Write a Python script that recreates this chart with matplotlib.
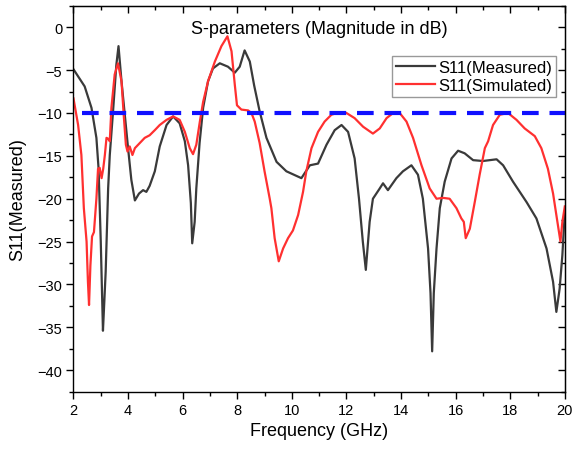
import numpy as np
import matplotlib
matplotlib.use("Agg")
import matplotlib.pyplot as plt
from matplotlib.ticker import MultipleLocator

plt.rcParams['font.family'] = ['Liberation Sans', 'DejaVu Sans']

# S11 measured (frequency in GHz, magnitude in dB)
f_meas = [2.0, 2.41, 2.66, 2.84, 2.92, 3.0, 3.08, 3.13, 3.18, 3.27, 3.33, 3.45, 3.57, 3.65,
          3.76, 3.88, 4.0, 4.12, 4.25, 4.4, 4.55, 4.67, 4.79, 4.98, 5.16, 5.41, 5.65, 5.89,
          6.08, 6.2, 6.3, 6.35, 6.44, 6.5, 6.62, 6.75, 6.93, 7.11, 7.36, 7.66, 7.91, 8.09,
          8.27, 8.46, 8.62, 8.82, 9.07, 9.44, 9.8, 10.35, 10.66, 10.96, 11.27, 11.57, 11.82,
          12.06, 12.3, 12.46, 12.6, 12.71, 12.85, 12.97, 13.22, 13.34, 13.52, 13.83, 14.07,
          14.38, 14.62, 14.8, 14.99, 15.08, 15.14, 15.2, 15.3, 15.42, 15.6, 15.85, 16.09,
          16.33, 16.64, 17.0, 17.5, 17.74, 18.1, 18.6, 18.96, 19.33, 19.57, 19.69, 19.81,
          19.91, 20.0]
s11_meas = [-4.9, -6.9, -9.4, -12.9, -16.5, -25.0, -35.4, -32.0, -28.5, -18.8, -14.9, -9.8,
            -4.4, -2.2, -6.3, -10.2, -14.1, -17.8, -20.2, -19.4, -19.0, -19.2, -18.5, -16.8,
            -13.9, -11.4, -10.4, -11.2, -13.3, -16.1, -20.5, -25.2, -22.7, -18.8, -13.5,
            -9.4, -6.3, -4.8, -4.2, -4.6, -5.3, -4.6, -2.7, -4.0, -6.8, -9.8, -12.9, -15.7,
            -16.8, -17.6, -16.1, -15.9, -13.7, -12.0, -11.4, -12.2, -15.3, -20.0, -25.0,
            -28.3, -22.7, -20.0, -18.8, -18.2, -19.0, -17.6, -16.8, -16.1, -17.2, -20.0,
            -25.8, -31.0, -37.8, -31.0, -25.8, -21.1, -18.0, -15.3, -14.4, -14.7, -15.5,
            -15.6, -15.4, -16.1, -18.0, -20.4, -22.3, -25.8, -29.7, -33.2, -30.5, -26.6,
            -21.5]

# S11 simulated
f_sim = [2.0, 2.17, 2.29, 2.38, 2.48, 2.53, 2.57, 2.62, 2.68, 2.75, 2.84, 2.9, 2.96, 3.03,
         3.09, 3.15, 3.21, 3.27, 3.33, 3.39, 3.51, 3.63, 3.76, 3.84, 3.92, 3.98, 4.06, 4.16,
         4.25, 4.37, 4.49, 4.61, 4.79, 4.98, 5.16, 5.41, 5.65, 5.89, 6.08, 6.26, 6.38, 6.5,
         6.63, 6.75, 6.93, 7.18, 7.42, 7.64, 7.79, 7.91, 7.99, 8.15, 8.4, 8.52, 8.64, 8.82,
         9.0, 9.19, 9.25, 9.37, 9.52, 9.68, 9.86, 10.04, 10.23, 10.41, 10.53, 10.72, 10.96,
         11.2, 11.45, 11.75, 12.0, 12.3, 12.61, 12.97, 13.22, 13.47, 13.71, 13.95, 14.2,
         14.44, 14.75, 15.05, 15.3, 15.54, 15.78, 16.03, 16.21, 16.3, 16.37, 16.52, 16.7,
         16.88, 17.07, 17.19, 17.37, 17.62, 17.92, 18.23, 18.53, 18.9, 19.14, 19.38, 19.57,
         19.69, 19.84, 19.91, 20.0]
s11_sim = [-8.3, -11.4, -14.9, -21.1, -25.0, -29.7, -32.4, -27.8, -24.4, -23.9, -20.0,
           -16.5, -16.4, -17.6, -16.5, -14.9, -12.9, -13.0, -13.3, -9.4, -5.5, -4.2, -6.3,
           -10.2, -13.7, -14.5, -13.9, -14.9, -14.1, -13.7, -13.3, -12.9, -12.6, -12.0,
           -11.4, -10.8, -10.4, -10.8, -12.2, -14.1, -14.8, -13.7, -11.0, -8.7, -6.3, -4.0,
           -2.2, -1.05, -2.8, -6.7, -9.1, -9.6, -9.7, -10.0, -11.0, -13.5, -16.8, -20.0,
           -21.1, -24.6, -27.3, -25.8, -24.6, -23.7, -21.9, -19.2, -16.8, -14.1, -12.2,
           -11.0, -10.2, -9.9, -10.0, -10.6, -11.6, -12.4, -11.8, -10.6, -10.0, -10.0,
           -11.0, -12.9, -16.1, -18.8, -20.0, -19.9, -20.0, -21.1, -22.3, -22.7, -24.6,
           -23.5, -20.4, -17.2, -14.1, -13.3, -11.4, -10.2, -10.0, -10.8, -11.8, -12.7,
           -14.1, -16.5, -19.4, -21.9, -25.0, -22.7, -20.9]

ref_x = [2.3, 20.0]
ref_y = [-10, -10]

fig = plt.figure(figsize=(5.74, 4.56), dpi=100)
ax = fig.add_axes([0.128, 0.139, 0.856, 0.846])

ax.plot(f_meas, s11_meas, color='#3a3a3a', lw=1.6, label='S11(Measured)',
        solid_joinstyle='round')
ax.plot(f_sim, s11_sim, color='#ff3030', lw=1.6, label='S11(Simulated)',
        solid_joinstyle='round')
ax.plot(ref_x, ref_y, color='#1010ff', lw=3.0, dashes=(4, 2.6))

ax.set_xlim(2, 20)
ax.set_ylim(-42.5, 2.5)
ax.xaxis.set_major_locator(MultipleLocator(2))
ax.xaxis.set_minor_locator(MultipleLocator(1))
ax.yaxis.set_major_locator(MultipleLocator(5))
ax.yaxis.set_minor_locator(MultipleLocator(2.5))
ax.tick_params(which='major', direction='out', length=5, width=1, labelsize=10.5, pad=3)
ax.tick_params(which='minor', direction='out', length=3, width=1)
for s in ax.spines.values():
    s.set_linewidth(1.0)

# mirrored ticks on top / right pointing inward
top = ax.secondary_xaxis('top')
top.xaxis.set_major_locator(MultipleLocator(2))
top.xaxis.set_minor_locator(MultipleLocator(1))
top.tick_params(which='major', direction='in', length=5, width=1, labeltop=False)
top.tick_params(which='minor', direction='in', length=3, width=1)
right = ax.secondary_yaxis('right')
right.yaxis.set_major_locator(MultipleLocator(5))
right.yaxis.set_minor_locator(MultipleLocator(2.5))
right.tick_params(which='major', direction='in', length=5, width=1, labelright=False)
right.tick_params(which='minor', direction='in', length=3, width=1)

ax.set_xlabel('Frequency (GHz)', fontsize=13, labelpad=4)
ax.set_ylabel('S11(Measured)', fontsize=13, labelpad=8)
ax.text(0.5, 0.94, 'S-parameters (Magnitude in dB)', transform=ax.transAxes,
        ha='center', va='center', fontsize=13)

leg = ax.legend(loc='upper right', bbox_to_anchor=(0.982, 0.870), fontsize=12,
                frameon=True, fancybox=False, edgecolor='#999999', framealpha=1,
                borderaxespad=0, borderpad=0.25, handlelength=2.3, handletextpad=0.2,
                labelspacing=0.15)
leg.get_frame().set_linewidth(1.0)

fig.savefig('out.png', dpi=100)
